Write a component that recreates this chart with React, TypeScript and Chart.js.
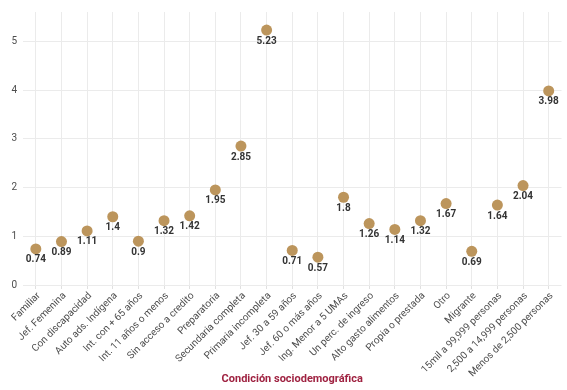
import React, { useEffect, useRef } from "react";
import { Chart, registerables } from "chart.js";

Chart.register(...registerables);

const categories = [
  "Familiar",
  "Jef. Femenina",
  "Con discapacidad",
  "Auto ads. Indígena",
  "Int. con + 65 años",
  "Int. 11 años o menos",
  "Sin acceso a credito",
  "Preparatoria",
  "Secundaria completa",
  "Primaria incompleta",
  "Jef. 30 a 59 años",
  "Jef. 60 o más años",
  "Ing. Menor a 5 UMAs",
  "Un perc. de ingreso",
  "Alto gasto alimentos",
  "Propia o prestada",
  "Otro",
  "Migrante",
  "15mil a 99,999 personas",
  "2,500 a 14,999 personas",
  "Menos de 2,500 personas",
];

const values = [0.74, 0.89, 1.11, 1.4, 0.9, 1.32, 1.42, 1.95, 2.85, 5.23, 0.71, 0.57, 1.8, 1.26, 1.14, 1.32, 1.67, 0.69, 1.64, 2.04, 3.98];

const yTicks = [0, 1, 2, 3, 4, 5];

const GOLD = "#bc955c";

const labelPlugin = {
  id: "pointLabels",
  afterDatasetsDraw(chart: any) {
    const ctx = chart.ctx;
    const meta = chart.getDatasetMeta(0);
    ctx.save();
    ctx.font = "bold 10px Roboto";
    ctx.fillStyle = "#333333";
    ctx.textAlign = "center";
    ctx.textBaseline = "middle";
    meta.data.forEach((pt: any, i: number) => {
      ctx.fillText(String(values[i]), pt.x, pt.y + 11);
    });
    ctx.restore();
  },
};

export default function App() {
  const ref = useRef<HTMLCanvasElement>(null);
  useEffect(() => {
    document.body.style.margin = "0";
    const chart = new Chart(ref.current!, {
      type: "line",
      data: {
        labels: categories,
        datasets: [
          {
            data: values,
            showLine: false,
            pointRadius: 5.5,
            pointBackgroundColor: GOLD,
            pointBorderColor: GOLD,
            pointBorderWidth: 0,
          },
        ],
      },
      options: {
        animation: false,
        responsive: false,
        layout: { padding: { top: 10, right: 5, left: 0, bottom: 0 } },
        plugins: { legend: { display: false }, tooltip: { enabled: false } },
        scales: {
          x: {
            offset: true,
            grid: {
              offset: false,
              color: "#ebebeb",
              tickLength: 4,
              tickColor: "#e0e0e0",
            },
            border: { display: false },
            ticks: {
              autoSkip: false,
              minRotation: 45,
              maxRotation: 45,
              color: "#4d4d4d",
              font: { family: "Roboto", size: 10 },
              padding: 1,
              labelOffset: 3,
            },
            title: {
              display: true,
              text: "Condición sociodemográfica",
              color: "#9f2241",
              font: { family: "Roboto", size: 11, weight: "bold" },
              padding: { top: 2, bottom: 4 },
            },
            afterFit(scale: any) {
              scale.height = 105;
            },
          },
          y: {
            min: 0,
            max: 5.6,
            afterBuildTicks(scale: any) {
              scale.ticks = yTicks.map((v) => ({ value: v }));
            },
            grid: { color: "#ebebeb", drawTicks: false },
            border: { display: false },
            ticks: {
              color: "#4d4d4d",
              font: { family: "Roboto", size: 10 },
              padding: 6,
            },
            afterFit(scale: any) {
              scale.width = 23;
            },
          },
        },
      },
      plugins: [labelPlugin],
    });
    return () => chart.destroy();
  }, []);
  return (
    <div style={{ width: 567, height: 390 }}>
      <canvas ref={ref} width={567} height={390} style={{ width: 567, height: 390 }} />
    </div>
  );
}
